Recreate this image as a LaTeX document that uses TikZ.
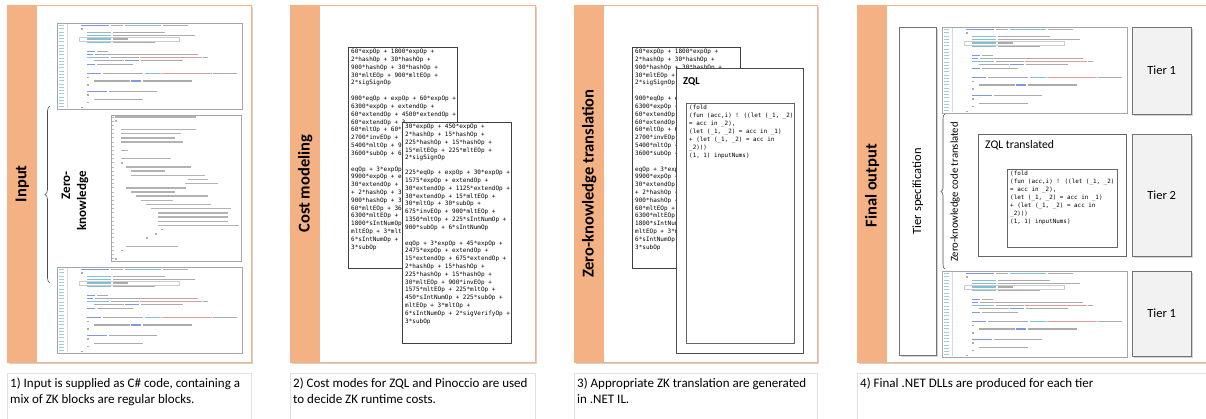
\documentclass[tikz,border=0pt]{standalone}
\usepackage{fontspec}
\setmainfont{Carlito}
\newfontfamily\monofont{DejaVu Sans Mono}
\usetikzlibrary{positioning,shadows,decorations.pathreplacing}

\definecolor{bandorange}{HTML}{F4B183}
\definecolor{vskey}{HTML}{8098E4}
\definecolor{vstype}{HTML}{86BFD2}
\definecolor{vsstr}{HTML}{E09A9A}
\definecolor{vstext}{HTML}{ABABAB}
\definecolor{vsnum}{HTML}{A3CDD9}

% cost model listings
\newcommand{\costfirst}{60*expOp + 1800*expOp +\\
2*hashOp + 30*hashOp +\\
900*hashOp + 30*hashOp +\\
30*mltEOp + 900*mltEOp +\\
2*sigSignOp\\[8pt]
900*eqOp + expOp + 60*expOp +\\
6300*expOp + extendOp +\\
60*extendOp + 4500*extendOp +\\
60*extendOp + 3\\
60*mltOp + 60*\\
2700*invEOp + 1\\
5400*mltOp + 90\\
3600*subOp + 6*\\[8pt]
eqOp + 3*expOp\\
9900*expOp + e\\
30*extendOp + 1\\
+ 2*hashOp + 30\\
900*hashOp + 30\\
60*mltEOp + 360\\
6300*mltEOp + 9\\
1800*sIntNumOp\\
mltEOp + 3*mlt\\
6*sIntNumOp + 2\\
3*subOp}

\newcommand{\costsecond}{30*expOp + 450*expOp +\\
2*hashOp + 15*hashOp +\\
225*hashOp + 15*hashOp +\\
15*mltEOp + 225*mltEOp +\\
2*sigSignOp\\[7pt]
225*eqOp + expOp + 30*expOp +\\
1575*expOp + extendOp +\\
30*extendOp + 1125*extendOp +\\
30*extendOp + 15*mltEOp +\\
30*mltOp + 30*subOp +\\
675*invEOp + 900*mltEOp +\\
1350*mltOp + 225*sIntNumOp +\\
900*subOp + 6*sIntNumOp\\[8pt]
eqOp + 3*expOp + 45*expOp +\\
2475*expOp + extendOp +\\
15*extendOp + 675*extendOp +\\
2*hashOp + 15*hashOp +\\
225*hashOp + 15*hashOp +\\
30*mltEOp + 900*invEOp +\\
1575*mltEOp + 225*mltOp +\\
450*sIntNumOp + 225*subOp +\\
mltEOp + 3*mltOp +\\
6*sIntNumOp + 2*sigVerifyOp +\\
3*subOp}

\newcommand{\costbehind}{60*expOp + 1800*expOp +\\
2*hashOp + 30*hashOp +\\
900*hashOp + 30*hashOp +\\
30*mltEOp +\\
2*sigSignOp\\[8pt]
900*eqOp + e\\
6300*expOp +\\
60*extendOp\\
60*extendOp\\
60*mltOp + 6\\
2700*invEOp\\
5400*mltOp +\\
3600*subOp +\\[8pt]
eqOp + 3*exp\\
9900*expOp +\\
30*extendOp\\
+ 2*hashOp +\\
900*hashOp +\\
60*mltEOp +\\
6300*mltEOp\\
1800*sIntNum\\
mltEOp + 3*m\\
6*sIntNumOp\\
3*subOp}

\newcommand{\zqlsource}{(fold\\
(fun (acc,i) ! ((let (\_1, \_2)\\
= acc in \_2),\\
(let (\_1, \_2) = acc in \_1)\\
+ (let (\_1, \_2) = acc in\\
\_2)))\\
(1, 1) inputNums)}

% screenshot of the C# method
\newcommand{\csharpshot}[2]{%
  \node[shot, minimum width=185pt, minimum height=86pt] (#1) at (#2) {};
  \begin{scope}[shift={(#1.north west)}]
    \foreach \k in {0,...,25}
      \draw[gutter] (2,2.7+3.25*\k) -- ++(5,0);
    \draw[black!15, line width=0.4pt] (10,1) -- (10,85);
    \draw[black!20, line width=0.4pt] (22,14.4) rectangle (122,17.7);
    \foreach \y/\a/\l/\col in {
      2.7/24/28/vskey, 2.7/54/12/vstext, 2.7/68/36/vstype, 2.7/106/25/vstext,
      6/24/2/vstext,
      9.3/30/24/vstype, 9.3/56/52/vstext,
      12.7/30/24/vstype, 12.7/56/82/vstext,
      16/30/24/vstype, 16/56/15/vstext,
      19.3/30/24/vstype, 19.3/56/42/vstext,
      28.7/30/8/vskey, 28.7/40/11/vstext,
      31.3/30/6/vskey, 31.3/38/103/vstext,
      34.7/30/22/vstype, 34.7/54/28/vstext, 34.7/83/62/vsstr, 34.7/146/5/vstext,
      37.7/37/30/vstext, 37.7/68/14/vskey, 37.7/84/42/vstext,
      41.3/30/8/vskey, 41.3/40/36/vstext,
      50.3/30/14/vskey, 50.3/46/40/vstext, 50.3/88/16/vstype, 50.3/105/50/vsstr, 50.3/156/24/vstext,
      54.3/30/2/vstext,
      58/37/36/vstext, 58/74/10/vskey, 58/86/49/vstext,
      62/30/2/vstext,
      68.7/30/20/vskey, 68.7/52/48/vstext,
      72/30/2/vstext,
      76.3/37/49/vstext,
      79.7/30/2/vstext,
      84.7/24/2/vstext}
      \draw[codeline, color=\col] (\a,\y) -- ++(\l,0);
  \end{scope}}

\begin{document}
\begin{tikzpicture}[x=1pt, y=-1pt,
   panel/.style={draw=bandorange, fill=white, anchor=north west, inner sep=0pt,
                 minimum height=357pt,
                 drop shadow={shadow xshift=1.5pt, shadow yshift=-1.5pt, fill=black!35, opacity=0.5}},
   band/.style={fill=bandorange, anchor=north west, inner sep=0pt,
                minimum width=30pt, minimum height=357pt},
   bandlabel/.style={rotate=90, font=\fontsize{16.5}{18}\selectfont\bfseries},
   capbox/.style={draw=black!12, fill=white, anchor=north west, inner sep=0pt,
                  minimum height=60pt,
                  drop shadow={shadow xshift=1pt, shadow yshift=-1pt, fill=black!20, opacity=0.5}},
   captext/.style={anchor=north west, align=left, inner sep=0pt,
                   font=\fontsize{13}{16}\selectfont},
   shot/.style={draw=black!35, fill=white, anchor=north west, inner sep=0pt},
   costbox/.style={draw=black!75, fill=white, anchor=north west, inner sep=0pt,
                   minimum width=109pt, minimum height=221pt},
   costtext/.style={anchor=north west, align=left, inner sep=0pt,
                    font=\monofont\fontsize{6}{7.8}\selectfont},
   tierbox/.style={draw=black!55, fill=black!5, anchor=north west, inner sep=0pt,
                   minimum width=59pt, font=\fontsize{12.5}{14}\selectfont,
                   drop shadow={shadow xshift=1.5pt, shadow yshift=-1.5pt, fill=black!35, opacity=0.5}},
   zkbrace/.style={decorate, decoration={brace, amplitude=5pt}, black!70, line width=0.6pt},
   codeline/.style={line width=1.3pt},
   gutter/.style={line width=1pt, vsnum}]
\useasboundingbox (0,0) rectangle (1206,418);
\clip (0,0) rectangle (1206,418);

% panels, bands and caption frames
\foreach \n/\x/\w in {1/7/244pt, 2/290/245pt, 3/574/243pt, 4/857/370pt}{
  \node[panel, minimum width=\w] (panel\n) at (\x,5) {};
  \node[band] (band\n) at (\x,5) {};
  \node[capbox, minimum width=\w] (cap\n) at (\x,373) {};
}
\node[bandlabel] (inputlbl) at (band1.center) {Input};
\node[bandlabel] (costlbl) at (band2.center) {Cost modeling};
\node[bandlabel] (zklbl) at (band3.center) {Zero-knowledge translation};
\node[bandlabel] (outlbl) at ([yshift=-2pt]band4.center) {Final output};

\node[captext] (captext1) at ([xshift=3pt,yshift=-5pt]cap1.north west)
  {1) Input is supplied as C\# code, containing a\\mix of ZK blocks are regular blocks.};
\node[captext] (captext2) at ([xshift=3pt,yshift=-5pt]cap2.north west)
  {2) Cost modes for ZQL and Pinoccio are used\\to decide ZK runtime costs.};
\node[captext] (captext3) at ([xshift=3pt,yshift=-5pt]cap3.north west)
  {3) Appropriate ZK translation are generated\\in .NET IL.};
\node[captext] (captext4) at ([xshift=3pt,yshift=-5pt]cap4.north west)
  {4) Final .NET DLLs are produced for each tier};

% 1) input
\csharpshot{inputtop}{57,23}
\csharpshot{inputbottom}{57,267}
\node[shot, minimum width=130pt, minimum height=146pt] (fibcode) at (111,115) {};
\begin{scope}[shift={(fibcode.north west)}]
  \foreach \k in {0,...,34}
    \draw[line width=0.9pt, black!28] (0.6,2+4.17*\k) -- ++(2,0);
  \foreach \i/\a/\b in {0/4/85, 1/4/6, 3/10/85, 4/10/70, 5/10/64, 6/10/72, 8/10/17,
      10/10/60, 11/10/12, 12/15/80, 13/20/54, 14/20/94, 15/77/97, 16/74/107,
      17/15/75, 18/20/64, 19/25/97, 20/30/62, 21/35/100, 22/40/120, 23/47/117,
      24/47/117, 25/47/117, 26/47/128, 27/50/52, 28/44/46, 29/35/37, 31/15/67,
      32/10/12, 34/4/6}
    \draw[codeline, line width=1.5pt, black!30] (\a,2+4.17*\i) -- (\b,2+4.17*\i);
\end{scope}
\coordinate (zktop) at (50,106);
\coordinate (zkbot) at (50,283);
\draw[zkbrace] (zkbot) -- (zktop);
\node[rotate=90, align=right, font=\fontsize{13}{16}\selectfont\bfseries] (zklabel) at (75,201) {Zero-\\knowledge};

% 2) cost modeling
\node[costbox] (costA) at (348,47) {};
\node[costtext] (costAtext) at ([xshift=3pt,yshift=-2pt]costA.north west) {\costfirst};
\node[costbox] (costB) at (402,122) {};
\node[costtext] (costBtext) at ([xshift=3pt,yshift=-2pt]costB.north west) {\costsecond};

% 3) zero-knowledge translation
\node[costbox, minimum width=108pt] (zkA) at (632,47) {};
\node[costtext] (zkAtext) at ([xshift=3pt,yshift=-2pt]zkA.north west) {\costbehind};
\node[draw=black!70, line width=1.3pt, fill=white, anchor=north west, inner sep=0pt,
      minimum width=127pt, minimum height=285pt] (zql) at (676,68) {};
\node[anchor=north west, inner sep=0pt, font=\fontsize{10.5}{12}\selectfont\bfseries] (zqltitle) at (683,77) {ZQL};
\node[draw=black!60, fill=white, anchor=north west, inner sep=0pt,
      minimum width=108pt, minimum height=240pt] (zqlcode) at (686,103) {};
\node[costtext, font=\monofont\fontsize{5.9}{8}\selectfont] (zqlcodetext) at ([xshift=3pt,yshift=-2pt]zqlcode.north west) {\zqlsource};

% 4) final output
\node[draw=black!55, fill=white, anchor=north west, inner sep=0pt, minimum width=37pt, minimum height=328pt,
      drop shadow={shadow xshift=1.5pt, shadow yshift=-1.5pt, fill=black!35, opacity=0.5}] (tierspec) at (899,27) {};
\node[rotate=90, font=\fontsize{12.5}{14}\selectfont] (tierspeclbl) at (tierspec.center) {Tier specification};
\csharpshot{outtop}{942,27}
\csharpshot{outbottom}{942,271}
\coordinate (trtop) at (945,114);
\coordinate (trbot) at (945,269);
\draw[zkbrace, decoration={amplitude=4pt}] (trbot) -- (trtop);
\node[rotate=90, font=\fontsize{10.7}{12}\selectfont] (trlabel) at (955,192) {Zero-knowledge code translated};
\node[draw=black!60, line width=0.8pt, fill=white, anchor=north west, inner sep=0pt,
      minimum width=148pt, minimum height=122pt,
      drop shadow={shadow xshift=1pt, shadow yshift=-1pt, fill=black!30, opacity=0.5}] (zqltr) at (978,134) {};
\node[anchor=north west, inner sep=0pt, font=\fontsize{11.7}{13}\selectfont] (zqltrtitle) at (985,140) {ZQL translated};
\node[draw=black!60, fill=white, anchor=north west, inner sep=0pt,
      minimum width=110pt, minimum height=78pt] (zqltrcode) at (1007,169) {};
\node[costtext, font=\monofont\fontsize{5.9}{8}\selectfont] (zqltrtext) at ([xshift=3pt,yshift=-2pt]zqltrcode.north west) {\zqlsource};
\node[tierbox, minimum height=87pt] (tierA) at (1132,27) {Tier 1};
\node[tierbox, minimum height=122pt] (tierB) at (1132,134) {Tier 2};
\node[tierbox, minimum height=85pt] (tierC) at (1132,271) {Tier 1};
\end{tikzpicture}
\end{document}
